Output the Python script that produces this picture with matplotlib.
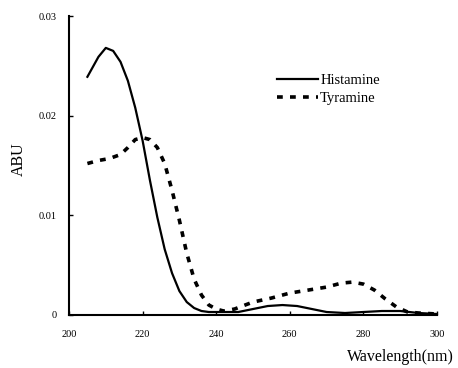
import matplotlib
matplotlib.use("Agg")
import matplotlib.pyplot as plt

plt.rcParams['font.family'] = ['Liberation Serif', 'DejaVu Serif']

wl_his = [205, 208, 210, 212, 214, 216, 218, 220, 222, 224, 226, 228, 230, 232, 234, 236, 238, 240, 243, 246, 250, 254, 258, 262, 266, 270, 275, 280, 285, 290, 295, 300]
abu_his = [0.0239, 0.0259, 0.0268, 0.0265, 0.0254, 0.0235, 0.0208, 0.0175, 0.0135, 0.0098, 0.0066, 0.0042, 0.0024, 0.0013, 0.0007, 0.0004, 0.0003, 0.0003, 0.0003, 0.0003, 0.0006, 0.0009, 0.0010, 0.0009, 0.0006, 0.0003, 0.0002, 0.0003, 0.0004, 0.0004, 0.0002, 0.0001]

wl_tyr = [205, 208, 211, 214, 216, 218, 220, 222, 224, 226, 228, 230, 232, 234, 236, 238, 240, 242, 245, 250, 255, 260, 265, 270, 274, 277, 280, 283, 286, 289, 292, 295, 300]
abu_tyr = [0.0152, 0.0155, 0.0157, 0.0161, 0.0168, 0.0176, 0.0178, 0.0176, 0.0168, 0.0152, 0.0125, 0.0095, 0.0062, 0.0036, 0.0020, 0.0010, 0.0006, 0.0004, 0.0006, 0.0013, 0.0017, 0.0022, 0.0025, 0.0028, 0.0032, 0.0033, 0.0031, 0.0025, 0.0016, 0.0008, 0.0003, 0.0002, 0.0001]

x_ticks = [200, 220, 240, 260, 280, 300]
y_ticks = [0, 0.01, 0.02, 0.03]
y_tick_labels = ['0', '0.01', '0.02', '0.03']

fig = plt.figure(figsize=(4.58, 3.68), dpi=100)
ax = fig.add_axes([69/458, 53/368, 368/458, 299/368])

ax.plot(wl_his, abu_his, color='black', lw=1.6, label='Histamine')
ax.plot(wl_tyr, abu_tyr, color='black', lw=2.6, linestyle=(0, (1.6, 2.0)), label='Tyramine')

ax.set_xlim(200, 300)
ax.set_ylim(0, 0.03)
ax.set_xticks(x_ticks)
ax.set_xticklabels([str(t) for t in x_ticks])
ax.set_yticks(y_ticks)
ax.set_yticklabels(y_tick_labels)
ax.tick_params(direction='in', length=3, width=1, labelsize=7.5)
ax.tick_params(axis='x', pad=11)
ax.tick_params(axis='y', pad=9)
for s in ['top', 'right']:
    ax.spines[s].set_visible(False)
for s in ['left', 'bottom']:
    ax.spines[s].set_linewidth(1.5)

ax.set_ylabel('ABU', fontsize=11.5)
ax.yaxis.set_label_coords(-0.115, 0.52)
ax.set_xlabel('Wavelength(nm)', fontsize=11.5)
ax.xaxis.set_label_coords(0.9, -0.115)

ax.legend(loc='upper left', bbox_to_anchor=(0.53, 0.85), frameon=False, fontsize=10.5,
          handlelength=2.8, handletextpad=0.15, labelspacing=0.3)

fig.savefig('out.png', dpi=100)
